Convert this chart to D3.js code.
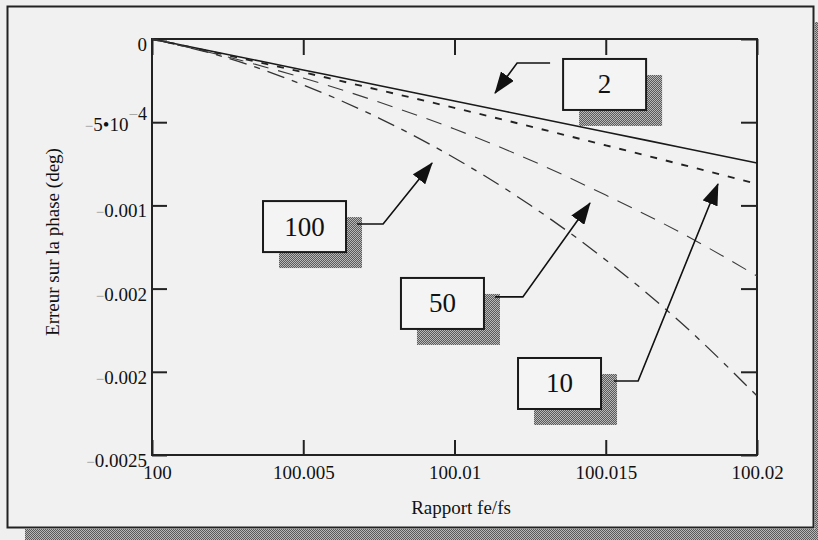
<!DOCTYPE html>
<html>
<head>
<meta charset="utf-8">
<script src="https://cdnjs.cloudflare.com/ajax/libs/d3/7.8.5/d3.min.js"></script>
<style>
  body { margin: 0; background: #efefef; }
  svg { display: block; font-family: "Liberation Serif", "DejaVu Serif", serif; }
</style>
</head>
<body>
<div id="result"></div>
<script>
// ratio fe/fs along the x axis
const xValues = [100, 100.0025, 100.005, 100.0075, 100.01, 100.0125, 100.015, 100.0175, 100.02];

// phase error (deg), one series per curve
const err2 = [0, -0.000093, -0.000186, -0.000279, -0.000373, -0.000466, -0.000559, -0.000652, -0.000745];
const err10 = [0, -0.000098, -0.0002, -0.000306, -0.000414, -0.000525, -0.000639, -0.000754, -0.000871];
const err50 = [0, -0.000108, -0.000234, -0.000379, -0.000541, -0.000727, -0.000938, -0.001166, -0.001424];
const err100 = [0, -0.000114, -0.000276, -0.000475, -0.000715, -0.000998, -0.001328, -0.001707, -0.002145];

const xTicks = [100, 100.005, 100.01, 100.015, 100.02];
const xTickLabels = ['100', '100.005', '100.01', '100.015', '100.02'];
const yTicks = [0, -0.0005, -0.001, -0.0015, -0.002, -0.0025];
const yTickLabels = ['0', '-5\u202210^-4', '-0.001', '-0.002', '-0.002', '-0.0025'];

// callouts, positioned in data units
const callouts = [
  { label: '2',   box: [100.01359, -0.00012],  start: [100.01316, -0.000144], elbow: [100.01207, -0.000144], tip: [100.01134, -0.000325] },
  { label: '100', box: [100.00367, -0.000974], start: [100.00678, -0.001112], elbow: [100.00764, -0.001112], tip: [100.00926, -0.000745] },
  { label: '50',  box: [100.00823, -0.001436], start: [100.01134, -0.00155],  elbow: [100.01226, -0.00155],  tip: [100.01448, -0.000986] },
  { label: '10',  box: [100.0121, -0.001917],  start: [100.01527, -0.002055], elbow: [100.01607, -0.002055], tip: [100.01871, -0.000871] }
];

const width = 818, height = 540;
const margin = { top: 39, right: 61, bottom: 85, left: 152 };
const innerW = width - margin.left - margin.right;
const innerH = height - margin.top - margin.bottom;
const FONT = 19;

const svg = d3.select('#result').append('svg')
  .attr('width', width)
  .attr('height', height);

// stippled grey like the scanned drop shadows
const defs = svg.append('defs');
const pat = defs.append('pattern')
  .attr('id', 'stipple')
  .attr('width', 2).attr('height', 2)
  .attr('patternUnits', 'userSpaceOnUse');
pat.append('rect').attr('width', 2).attr('height', 2).attr('fill', '#b8b8b8');
pat.append('rect').attr('width', 1).attr('height', 1).attr('fill', '#5a5a5a');
pat.append('rect').attr('x', 1).attr('y', 1).attr('width', 1).attr('height', 1).attr('fill', '#5a5a5a');

defs.append('marker')
  .attr('id', 'head')
  .attr('markerUnits', 'userSpaceOnUse')
  .attr('markerWidth', 22).attr('markerHeight', 16)
  .attr('refX', 21).attr('refY', 8)
  .attr('orient', 'auto')
  .append('path')
  .attr('d', 'M0,0 L22,8 L0,16 Z')
  .attr('fill', '#111');

// outer frame and its shadow
svg.append('rect').attr('x', 25).attr('y', 529).attr('width', 793).attr('height', 11).attr('fill', 'url(#stipple)');
svg.append('rect').attr('x', 815).attr('y', 22).attr('width', 3).attr('height', 518).attr('fill', 'url(#stipple)');
svg.append('rect')
  .attr('x', 7.5).attr('y', 6.5)
  .attr('width', 806).attr('height', 521)
  .attr('fill', '#f1f1f1')
  .attr('stroke', '#222')
  .attr('stroke-width', 2);

const x = d3.scaleLinear().domain([100, 100.02]).range([0, innerW]);
const y = d3.scaleLinear().domain([-0.0025, 0]).range([innerH, 0]);

const g = svg.append('g').attr('transform', `translate(${margin.left},${margin.top})`);

// ticks point inward on all four sides
const xAxis = g.append('g')
  .attr('transform', `translate(0,${innerH})`)
  .call(d3.axisBottom(x).tickValues(xTicks).tickSize(-15).tickPadding(11)
    .tickFormat(function(d, i) { return xTickLabels[i]; }));
g.append('g')
  .call(d3.axisTop(x).tickValues(xTicks).tickSize(-16).tickFormat(''));
g.append('g')
  .attr('transform', `translate(${innerW},0)`)
  .call(d3.axisRight(y).tickValues(yTicks).tickSize(-16).tickFormat(''));
const yAxis = g.append('g')
  .call(d3.axisLeft(y).tickValues(yTicks).tickSize(-15).tickPadding(5)
    .tickFormat(function(d, i) { return yTickLabels[i]; }));

g.selectAll('.domain').remove();
g.selectAll('.tick line').attr('stroke', '#222').attr('stroke-width', 2);

xAxis.selectAll('text')
  .attr('font-size', FONT)
  .attr('font-family', '"Liberation Serif", serif')
  .attr('fill', '#111');
xAxis.select('.tick text').attr('dx', 5);

// y labels: light minus sign, optional superscript
yAxis.selectAll('text').each(function(d, i) {
  var t = d3.select(this);
  var label = yTickLabels[i];
  t.text(null)
    .attr('font-size', FONT)
    .attr('font-family', '"Liberation Serif", serif')
    .attr('fill', '#111')
    .attr('dy', '0.6em');
  var neg = label.charAt(0) == '-';
  var body = neg ? label.slice(1) : label;
  var parts = body.split('^');
  if (neg) {
    t.append('tspan').attr('fill', '#999').attr('font-size', 15).text('\u2212');
  }
  t.append('tspan').text(parts[0]);
  if (parts.length > 1) {
    t.append('tspan').attr('dy', -11).attr('font-size', 17).attr('fill', '#999').text('\u2212');
    t.append('tspan').attr('font-size', 18).text(parts[1].replace('-', ''));
  }
});
yAxis.select('.tick:nth-child(2) text').attr('dy', '0.45em');

// plot frame
g.append('rect')
  .attr('width', innerW).attr('height', innerH)
  .attr('fill', 'none')
  .attr('stroke', '#222')
  .attr('stroke-width', 2);

const series = [
  { values: err2, width: 1.6, dash: null, color: '#1a1a1a' },
  { values: err10, width: 1.9, dash: '7,9', color: '#222' },
  { values: err50, width: 1.1, dash: '16,10', color: '#3a3a3a' },
  { values: err100, width: 1.3, dash: '18,8,6,8', color: '#333' }
];

const line = d3.line()
  .x(function(d, i) { return x(xValues[i]); })
  .y(function(d) { return y(d); })
  .curve(d3.curveMonotoneX);

g.selectAll('path.curve')
  .data(series)
  .enter().append('path')
  .attr('class', 'curve')
  .attr('d', function(s) { return line(s.values); })
  .attr('fill', 'none')
  .attr('stroke', function(s) { return s.color; })
  .attr('stroke-width', function(s) { return s.width; })
  .attr('stroke-dasharray', function(s) { return s.dash; });

// callout boxes with shadows and arrows
const boxW = 83, boxH = 51, shadowOff = 16;
const notes = g.selectAll('g.note').data(callouts).enter().append('g').attr('class', 'note');

notes.append('rect')
  .attr('x', function(c) { return x(c.box[0]) + shadowOff; })
  .attr('y', function(c) { return y(c.box[1]) + shadowOff; })
  .attr('width', boxW).attr('height', boxH)
  .attr('fill', 'url(#stipple)');

notes.append('rect')
  .attr('x', function(c) { return x(c.box[0]); })
  .attr('y', function(c) { return y(c.box[1]); })
  .attr('width', boxW).attr('height', boxH)
  .attr('fill', '#f4f4f4')
  .attr('stroke', '#1a1a1a')
  .attr('stroke-width', 2);

notes.append('text')
  .attr('x', function(c) { return x(c.box[0]) + boxW / 2; })
  .attr('y', function(c) { return y(c.box[1]) + boxH / 2 + 9; })
  .attr('text-anchor', 'middle')
  .attr('font-size', 27)
  .attr('fill', '#111')
  .text(function(c) { return c.label; });

notes.append('path')
  .attr('d', function(c) {
    return d3.line()([
      [x(c.start[0]), y(c.start[1])],
      [x(c.elbow[0]), y(c.elbow[1])],
      [x(c.tip[0]), y(c.tip[1])]
    ]);
  })
  .attr('fill', 'none')
  .attr('stroke', '#111')
  .attr('stroke-width', 1.6)
  .attr('marker-end', 'url(#head)');

// axis titles
svg.append('text')
  .attr('x', 461).attr('y', 514)
  .attr('text-anchor', 'middle')
  .attr('font-size', FONT)
  .attr('fill', '#111')
  .text('Rapport fe/fs');

svg.append('text')
  .attr('transform', 'translate(59,242)rotate(-90)')
  .attr('text-anchor', 'middle')
  .attr('font-size', FONT)
  .attr('fill', '#111')
  .text('Erreur sur la phase (deg)');
</script>
</body>
</html>
